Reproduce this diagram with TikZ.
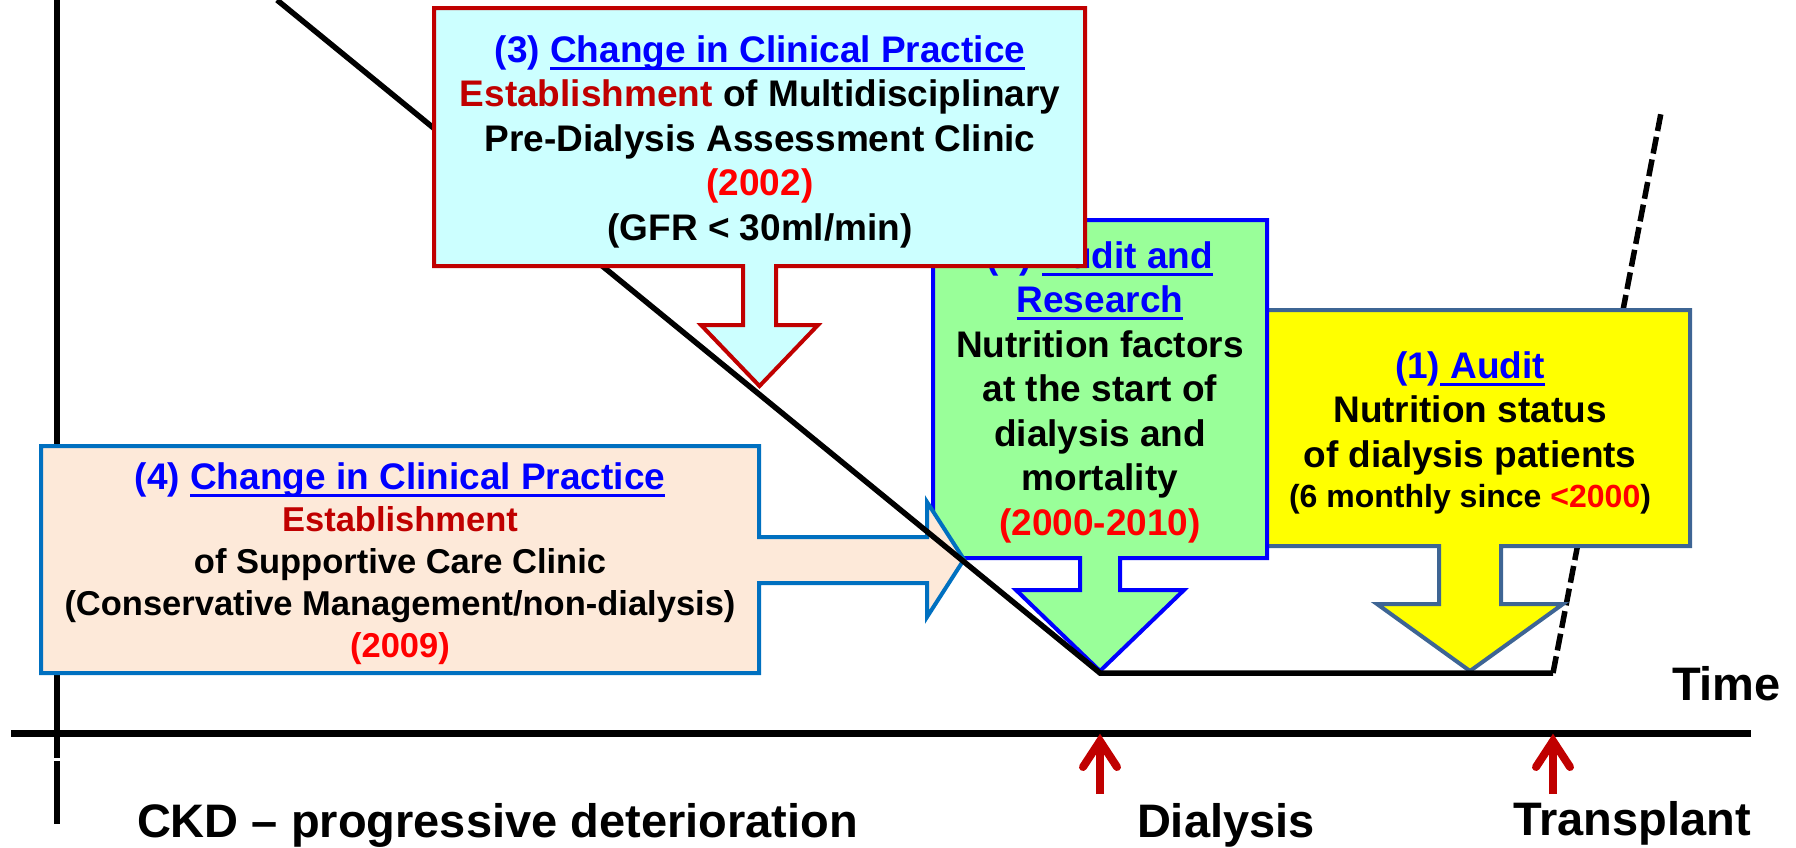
\documentclass[tikz,border=0pt]{standalone}
\usepackage{fontspec}
\setmainfont{Liberation Sans}
\usetikzlibrary{calc}

\definecolor{txtblue}{HTML}{0000FF}
\definecolor{yearred}{HTML}{FF0000}
\definecolor{darkred}{HTML}{C00000}
\definecolor{cyanfill}{HTML}{CCFFFF}
\definecolor{greenfill}{HTML}{99FF99}
\definecolor{yellowfill}{HTML}{FFFF00}
\definecolor{slateborder}{HTML}{3E6594}
\definecolor{peachfill}{HTML}{FDE9D9}
\definecolor{peachborder}{HTML}{0070C0}

% underline drawn as a rule under the text, in the current colour
\newcommand\ulbox[1]{\setbox0=\hbox{#1}\rlap{\rule[-7.5pt]{\wd0}{3pt}}\box0}

\begin{document}
\begin{tikzpicture}[x=1pt,y=-1pt,
  every node/.style={inner sep=0pt, outer sep=0pt},
  ln/.style={anchor=base, font=\fontsize{37}{44}\selectfont\bfseries},
  lnmid/.style={anchor=base, font=\fontsize{34.5}{41}\selectfont\bfseries},
  lnsmall/.style={anchor=base, font=\fontsize{32}{38}\selectfont\bfseries},
  axislabel/.style={anchor=base west, font=\fontsize{47}{56}\selectfont\bfseries},
  callout/.style={line width=4pt, line join=miter},
  curve/.style={line width=5.5pt, line join=miter},
  axisline/.style={line width=7pt},
  marker/.style={draw=darkred, line width=8pt},
  markerhead/.style={draw=darkred, line width=8pt, line cap=round, line join=miter}
]
\useasboundingbox (0,0) rectangle (1796,847);

% axes
\draw[line width=6pt] (57,0) -- (57,758);
\draw[line width=6pt] (57,761) -- (57,824);
\coordinate (axL) at (11,733);
\coordinate (axR) at (1751,733);
\draw[axisline] (axL) -- (axR);

% course after transplant
\coordinate (txStart) at (1553,673);
\coordinate (txEnd) at (1661,113);
\draw[curve, dash pattern=on 17pt off 6pt] (txStart) -- (txEnd);

% (1) audit callout
\draw[callout, draw=slateborder, fill=yellowfill]
  (1250,310) -- (1690,310) -- (1690,546) -- (1501,546) -- (1501,604) -- (1563,604)
  -- (1470,671) -- (1377,604) -- (1439,604) -- (1439,546) -- (1250,546) -- cycle;
\node[ln] (y1) at (1470,378) {\color{txtblue}(1)\ulbox{~Audit}};
\node[ln] (y2) at (1470,422) {Nutrition status};
\node[ln] (y3) at (1470,467) {of dialysis patients};
\node[lnsmall] (y4) at (1470,507) {(6 monthly since \textcolor{yearred}{<2000})};

% (2) audit and research callout
\draw[callout, draw=txtblue, fill=greenfill]
  (933,220) -- (1267,220) -- (1267,558) -- (1120,558) -- (1120,590) -- (1184,590)
  -- (1100,671) -- (1016,590) -- (1080,590) -- (1080,558) -- (933,558) -- cycle;
\node[ln] (g1) at (1100,268) {\color{txtblue}(2) \ulbox{Audit and}};
\node[ln] (g2) at (1100,312.5) {\color{txtblue}\ulbox{Research}};
\node[ln] (g3) at (1100,357) {Nutrition factors};
\node[ln] (g4) at (1100,401.5) {at the start of};
\node[ln] (g5) at (1100,446) {dialysis and};
\node[ln] (g6) at (1100,490.5) {mortality};
\node[ln] (g7) at (1100,535) {\color{yearred}(2000-2010)};

% (4) supportive care callout
\draw[callout, draw=peachborder, fill=peachfill]
  (41,446) -- (759,446) -- (759,537) -- (927,537) -- (927,502) -- (964,559.5)
  -- (927,617) -- (927,583) -- (759,583) -- (759,673) -- (41,673) -- cycle;
\node[ln] (p1) at (400,489) {\color{txtblue}(4) \ulbox{Change in Clinical Practice}};
\node[lnmid] (p2) at (400,531) {\color{darkred}Establishment};
\node[lnmid] (p3) at (400,573) {of Supportive Care Clinic};
\node[lnmid] (p4) at (400,615) {(Conservative Management/non-dialysis)};
\node[lnmid] (p5) at (400,657) {\color{yearred}(2009)};

% kidney function course
\coordinate (ckdTop) at (277,0);
\coordinate (dialStart) at (1100,673);
\draw[curve] (ckdTop) -- (dialStart) -- (txStart);

% (3) pre-dialysis clinic callout
\draw[callout, draw=darkred, fill=cyanfill]
  (434,8) -- (1085,8) -- (1085,266) -- (776,266) -- (776,325) -- (818,325)
  -- (759.5,386) -- (701,325) -- (743,325) -- (743,266) -- (434,266) -- cycle;
\node[ln] (c1) at (760,62) {\color{txtblue}(3) \ulbox{Change in Clinical Practice}};
\node[ln] (c2) at (760,106.5) {\textcolor{darkred}{Establishment} of Multidisciplinary};
\node[ln] (c3) at (760,151) {Pre-Dialysis Assessment Clinic};
\node[ln] (c4) at (760,195.5) {\color{yearred}(2002)};
\node[ln] (c5) at (760,240) {(GFR < 30ml/min)};

% axis labels
\node[axislabel] (time) at (1672,700) {Time};
\node[axislabel] (ckd) at (137,837) {CKD – progressive deterioration};
\node[axislabel] (dial) at (1137,837) {Dialysis};
\node[axislabel] (trans) at (1513,835) {Transplant};

% event markers under the time axis
\coordinate (dFoot) at (1100,794);
\coordinate (dTip) at (1100,741);
\draw[marker] (dFoot) -- ($(dTip)+(0,4)$);
\draw[markerhead] ($(dTip)+(-17,26)$) -- (dTip) -- ($(dTip)+(17,26)$);
\coordinate (tFoot) at (1553,794);
\coordinate (tTip) at (1553,741);
\draw[marker] (tFoot) -- ($(tTip)+(0,4)$);
\draw[markerhead] ($(tTip)+(-17,26)$) -- (tTip) -- ($(tTip)+(17,26)$);
\end{tikzpicture}
\end{document}
